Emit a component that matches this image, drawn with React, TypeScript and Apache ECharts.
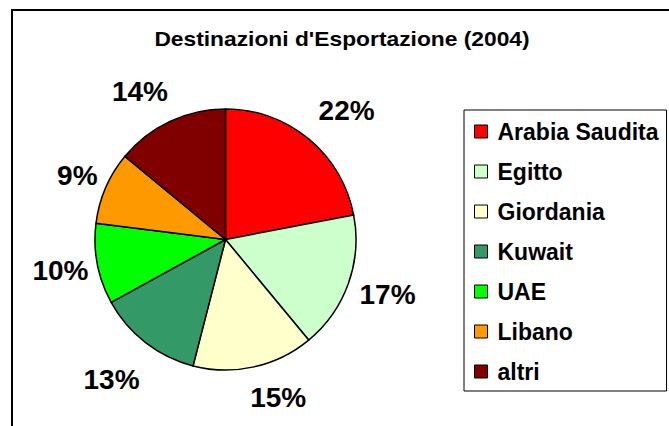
import React, { useEffect, useRef } from "react";
import * as echarts from "echarts";

const titleText = "Destinazioni d'Esportazione (2004)";
const categories = ["Arabia Saudita", "Egitto", "Giordania", "Kuwait", "UAE", "Libano", "altri"];
const shares = [22, 17, 15, 13, 10, 9, 14];
const colors = ["#FF0000", "#CCFFCC", "#FFFFCC", "#339966", "#00FF00", "#FF9900", "#800000"];
// small label nudges (px) to mimic the original label placement
const labelNudgeX = [14, 4, 16, -11, 0, 6, -14];
const labelNudgeY = [0, -2, -6, 7, 0, 3, 4];

const FONT = '"Liberation Sans", Arial, Helvetica, sans-serif';

export default function App() {
  const ref = useRef<HTMLDivElement>(null);
  useEffect(() => {
    if (!ref.current) return;
    const chart = echarts.init(ref.current, null, { renderer: "svg" });
    const data = categories.map((name, i) => ({
      name,
      value: shares[i],
      itemStyle: { color: colors[i] },
    }));
    const labelData = categories.map((name, i) => ({ name, value: shares[i] }));
    chart.setOption({
      animation: false,
      backgroundColor: "#ffffff",
      graphic: [
        {
          type: "rect",
          z: 0,
          shape: { x: 12, y: 10, width: 680, height: 440 },
          style: { fill: "none", stroke: "#000", lineWidth: 2 },
        },
        {
          type: "text",
          z: 10,
          x: 342,
          y: 39,
          scaleX: 1.14,
          style: {
            text: titleText,
            font: `bold 20px ${FONT}`,
            fill: "#000",
            align: "center",
            verticalAlign: "middle",
          },
        },
      ],
      legend: {
        orient: "vertical",
        left: 464,
        top: 110,
        data: categories,
        itemWidth: 13,
        itemHeight: 13,
        itemGap: 17,
        padding: [10, 8, 8, 10],
        borderColor: "#000",
        borderWidth: 1,
        backgroundColor: "#fff",
        icon: "rect",
        itemStyle: { borderColor: "#000", borderWidth: 1 },
        textStyle: {
          fontFamily: FONT,
          fontWeight: "bold",
          fontSize: 23,
          lineHeight: 23,
          color: "#000",
          padding: [0, 0, 0, 5],
        },
        selectedMode: false,
      },
      series: [
        {
          type: "pie",
          name: "Destinazioni",
          center: [225.5, 239.5],
          radius: 130.5,
          startAngle: 90,
          clockwise: true,
          label: { show: false },
          labelLine: { show: false },
          itemStyle: { borderColor: "#000", borderWidth: 1.5 },
          emphasis: { disabled: true },
          data,
        },
        {
          type: "pie",
          name: "Percentuali",
          center: [225.5, 239.5],
          radius: [155, 175],
          startAngle: 90,
          clockwise: true,
          silent: true,
          itemStyle: { color: "rgba(0,0,0,0)", borderWidth: 0 },
          label: {
            show: true,
            position: "inside",
            formatter: "{d}%",
            fontFamily: FONT,
            fontWeight: "bold",
            fontSize: 28,
            color: "#000",
            textBorderWidth: 0,
          },
          labelLayout: (params: any) => ({
            dx: labelNudgeX[params.dataIndex] || 0,
            dy: labelNudgeY[params.dataIndex] || 0,
          }),
          labelLine: { show: false },
          emphasis: { disabled: true },
          data: labelData,
        },
      ],
    });
    return () => chart.dispose();
  }, []);
  return (
    <div
      ref={ref}
      style={{ position: "absolute", left: 0, top: 0, width: 669, height: 426 }}
    />
  );
}
